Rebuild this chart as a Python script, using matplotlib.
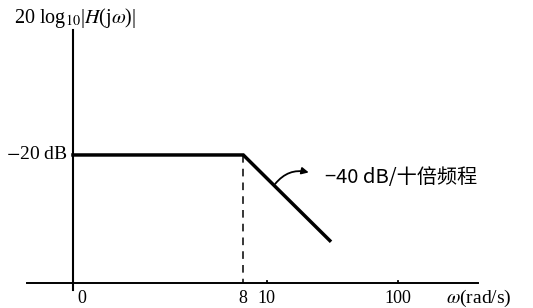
import matplotlib
matplotlib.use('Agg')
import matplotlib.pyplot as plt

plt.rcParams['font.family'] = ['Liberation Serif', 'DejaVu Serif']
plt.rcParams['mathtext.fontset'] = 'stix'

# schematic Bode plot: horizontal position is in decades from the origin
omega_labels = ['0', '8', '10', '100']
omega_pos = [0.0, 1.30, 1.48, 2.48]
level_db = -20
slope_db = -40          # dB per decade
end_pos = 1.96

break_pos = omega_pos[1]
seg_x = [0.0, break_pos, end_pos]
seg_y = [level_db, level_db, level_db + slope_db * (end_pos - break_pos)]

fig = plt.figure(figsize=(5.33, 3.08), dpi=100)
ax = fig.add_axes([0, 0, 1, 1])
ax.set_xlim(-0.557, 3.511)
ax.set_ylim(-67.2, 27.8)
ax.axis('off')

x_axis_db = -59.5
label_db = -65.6
# axes lines
ax.plot([-0.351, 3.092], [x_axis_db, x_axis_db], color='black', lw=1.4)
ax.plot([0, 0], [-61.7, 18.6], color='black', lw=1.5)

# asymptote
ax.plot(seg_x, seg_y, color='black', lw=2.5, solid_joinstyle='miter')
ax.plot([break_pos, break_pos], [level_db, x_axis_db], color='black',
        lw=1.1, ls=(0, (5, 4)))

# small tick marks at 10 and 100
for p in omega_pos[2:]:
    ax.plot([p, p], [x_axis_db, x_axis_db + 0.7], color='black', lw=1.3)

# tick labels
ax.text(0.03, label_db, omega_labels[0], ha='left', va='baseline', fontsize=13)
for lab, p in zip(omega_labels[1:], omega_pos[1:]):
    ax.text(p, label_db, lab, ha='center', va='baseline', fontsize=13)
ax.text(2.85, label_db, r'$\omega$(rad/s)', ha='left', va='baseline', fontsize=14)

ax.text(-0.04, level_db, r'$-$20 dB', ha='right', va='center', fontsize=14)
ax.text(-0.45, 22.3, r'20 log$_{10}$|$H$(j$\omega$)|', ha='left', va='center',
        fontsize=14.5)

# slope annotation
ax.annotate('', xy=(1.82, -25.6), xytext=(1.53, -29.6),
            arrowprops=dict(arrowstyle='-|>', color='black', lw=1.3,
                            mutation_scale=10,
                            connectionstyle='arc3,rad=-0.35'))
ax.text(1.92, -26.8, '−40 dB/十倍频程', ha='left', va='center', fontsize=14.5,
        family=['Noto Sans CJK SC', 'DejaVu Sans'])

fig.savefig('out.png', dpi=100)
